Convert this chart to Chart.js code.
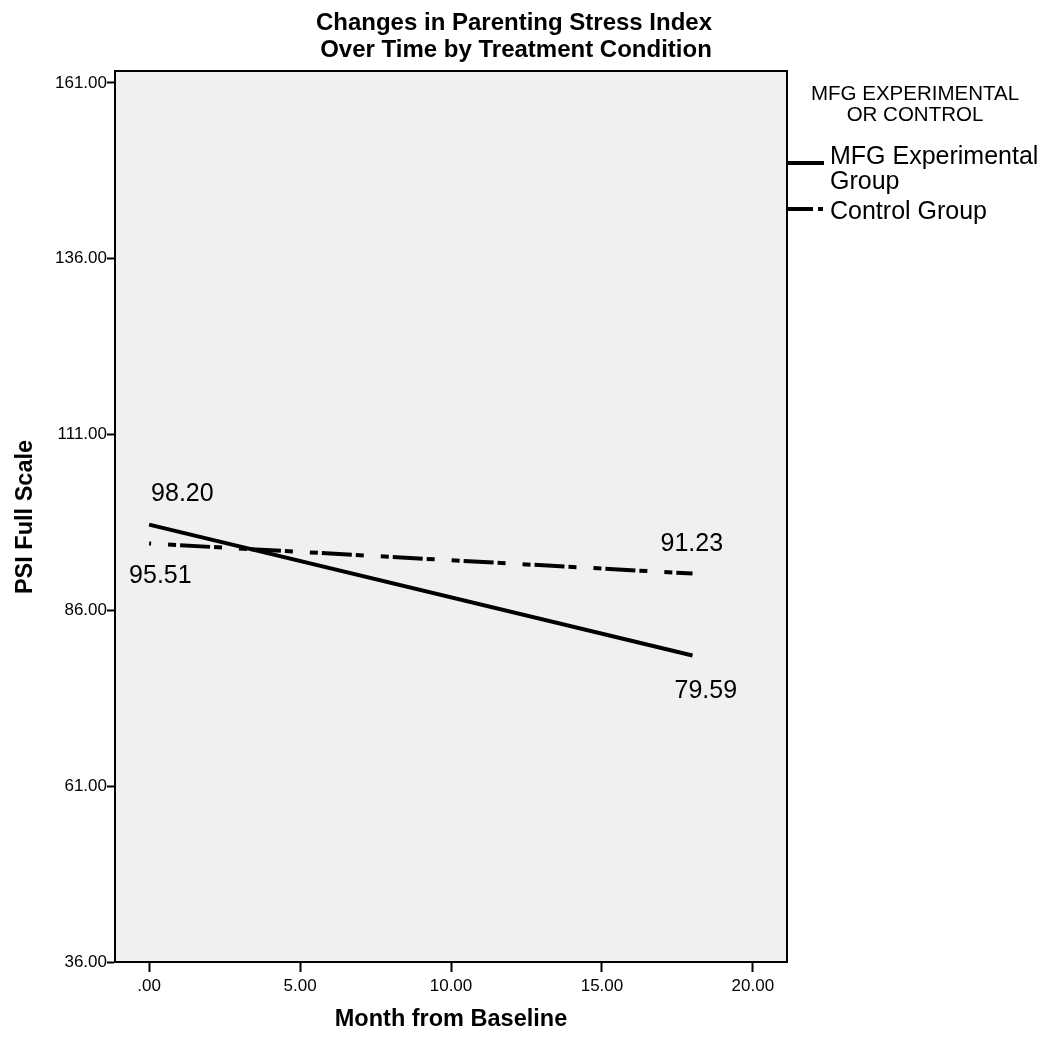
<!DOCTYPE html>
<html>
<head>
<meta charset="utf-8">
<script src="https://cdn.jsdelivr.net/npm/chart.js@4"></script>
<style>
html,body{margin:0;padding:0;background:#fff;}
#wrap{width:1050px;height:1047px;}
</style>
</head>
<body>
<div id="wrap"><canvas id="c" width="1050" height="1047"></canvas></div>
<script>
const titleLines = ["Changes in Parenting Stress Index", "Over Time by Treatment Condition"];
const xTitle = "Month from Baseline";
const yTitle = "PSI Full Scale";
const legendTitle = ["MFG EXPERIMENTAL", "OR CONTROL"];
const seriesNames = [["MFG Experimental", "Group"], ["Control Group"]];
const months = [0, 18];
const experimental = [98.20, 79.59];
const control = [95.51, 91.23];
const xTicks = [0, 5, 10, 15, 20];
const yTicks = [36, 61, 86, 111, 136, 161];

const FONT = "'Liberation Sans', Arial, sans-serif";
const CONTROL_DASH = [30, 4, 8, 17, 8, 4];

function fmt(v) {
  const s = v.toFixed(2);
  return s.startsWith("0.") ? s.slice(1) : s;
}

const decor = {
  id: 'decor',
  beforeDraw(chart) {
    const {ctx, chartArea: a} = chart;
    ctx.save();
    ctx.fillStyle = '#f0f0f0';
    ctx.fillRect(a.left, a.top, a.right - a.left, a.bottom - a.top);
    ctx.restore();
  },
  afterDraw(chart) {
    const {ctx, chartArea: a, scales} = chart;
    ctx.save();
    // frame
    ctx.strokeStyle = '#000';
    ctx.lineWidth = 2;
    ctx.strokeRect(a.left, a.top, a.right - a.left, a.bottom - a.top);
    // title
    ctx.fillStyle = '#000';
    ctx.textAlign = 'center';
    ctx.textBaseline = 'middle';
    ctx.font = "bold 24px " + FONT;
    ctx.fillText(titleLines[0], 514, 23);
    ctx.fillText(titleLines[1], 516, 50);
    // axis titles
    ctx.font = "bold 23.5px " + FONT;
    ctx.fillText(xTitle, 451, 1020);
    ctx.save();
    ctx.translate(26, 517);
    ctx.rotate(-Math.PI / 2);
    ctx.fillText(yTitle, 0, 0);
    ctx.restore();
    // legend
    ctx.font = "20.5px " + FONT;
    ctx.fillText(legendTitle[0], 915, 94);
    ctx.fillText(legendTitle[1], 915, 115);
    ctx.textAlign = 'left';
    ctx.font = "25px " + FONT;
    ctx.fillText(seriesNames[0][0], 830, 157);
    ctx.fillText(seriesNames[0][1], 830, 182);
    ctx.fillText(seriesNames[1][0], 830, 212);
    ctx.lineWidth = 4;
    ctx.lineCap = 'butt';
    ctx.beginPath(); ctx.moveTo(787, 163); ctx.lineTo(824, 163); ctx.stroke();
    ctx.beginPath(); ctx.moveTo(787, 209); ctx.lineTo(813, 209); ctx.stroke();
    ctx.fillRect(818, 207, 5, 4);
    // value labels
    const xs = scales.x, ys = scales.y;
    ctx.font = "25px " + FONT;
    ctx.textBaseline = 'middle';
    const lab = (v, x, dx, dy) => {
      ctx.fillText(fmt(v), xs.getPixelForValue(x) + dx, ys.getPixelForValue(v) + dy);
    };
    lab(experimental[0], months[0], 2, -30);
    lab(control[0], months[0], -20, 33);
    lab(control[1], months[1], -32, -29);
    lab(experimental[1], months[1], -18, 36);
    ctx.restore();
  }
};

new Chart(document.getElementById('c'), {
  type: 'line',
  data: {
    datasets: [
      {
        label: seriesNames[0].join(' '),
        data: months.map((m, i) => ({x: m, y: experimental[i]})),
        borderColor: '#000', borderWidth: 4, pointRadius: 0, fill: false, tension: 0
      },
      {
        label: seriesNames[1].join(' '),
        data: months.map((m, i) => ({x: m, y: control[i]})),
        borderColor: '#000', borderWidth: 4, borderDash: CONTROL_DASH, borderDashOffset: 40,
        pointRadius: 0, fill: false, tension: 0
      }
    ]
  },
  options: {
    responsive: false,
    animation: false,
    devicePixelRatio: 1,
    layout: {padding: {left: 0, top: 71, right: 263, bottom: 0}},
    plugins: {legend: {display: false}, title: {display: false}, tooltip: {enabled: false}},
    scales: {
      x: {
        type: 'linear',
        min: -1.13, max: 21.13,
        afterFit(s) { s.height = 85; },
        afterBuildTicks(s) { s.ticks = xTicks.map(v => ({value: v})); },
        ticks: {callback: v => fmt(v), color: '#000', font: {family: FONT, size: 17}, padding: 4, maxRotation: 0, autoSkip: false},
        grid: {drawOnChartArea: false, drawTicks: true, tickLength: 10, tickColor: '#000', tickWidth: 2},
        border: {display: true, color: '#000', width: 2}
      },
      y: {
        type: 'linear',
        min: 36, max: 162.7,
        afterFit(s) { s.width = 115; },
        afterBuildTicks(s) { s.ticks = yTicks.map(v => ({value: v})); },
        ticks: {callback: v => fmt(v), color: '#000', font: {family: FONT, size: 17}, padding: 0, autoSkip: false},
        grid: {drawOnChartArea: false, drawTicks: true, tickLength: 8, tickColor: '#000', tickWidth: 2},
        border: {display: true, color: '#000', width: 2}
      }
    }
  },
  plugins: [decor]
});
</script>
</body>
</html>
